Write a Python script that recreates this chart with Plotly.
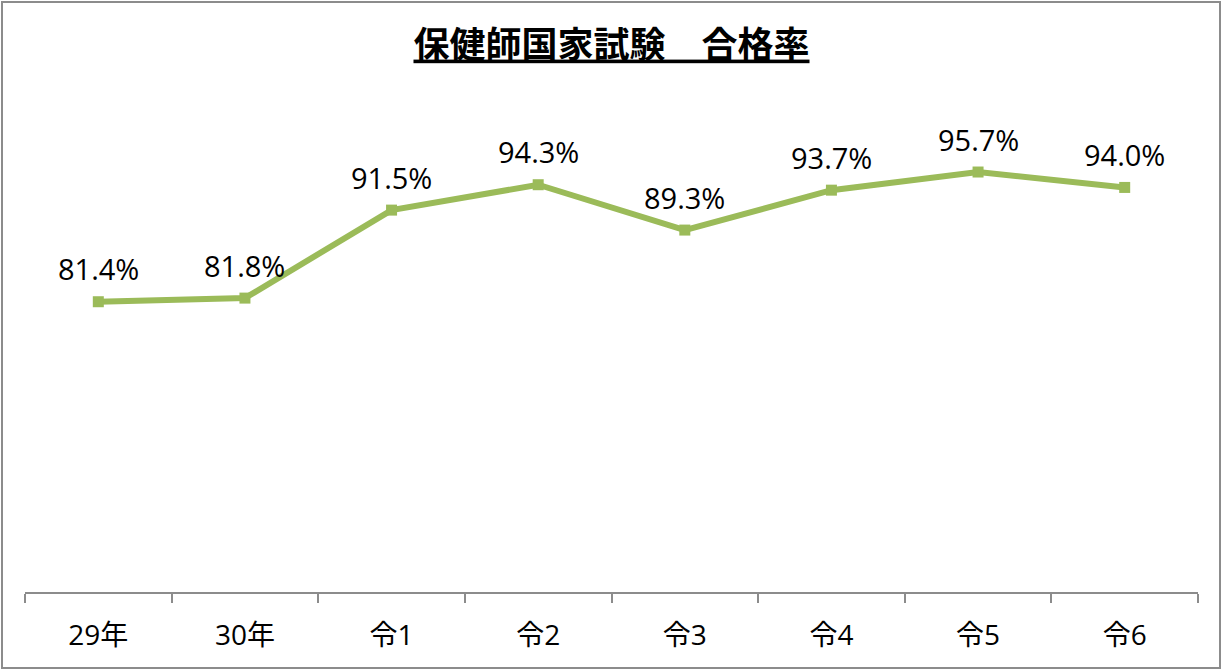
import plotly.graph_objects as go

# 保健師国家試験 合格率
years = ["29年", "30年", "令1", "令2", "令3", "令4", "令5", "令6"]
pass_rate = [81.4, 81.8, 91.5, 94.3, 89.3, 93.7, 95.7, 94.0]
labels = [f"{v:.1f}%" for v in pass_rate]

W, H = 1222, 670
ml, mr, mt, mb = 25, 24, 138, 78
pw, ph = W - ml - mr, H - mt - mb

fig = go.Figure()
fig.add_trace(go.Scatter(
    x=years, y=pass_rate, mode="lines+markers",
    line=dict(color="#9BBB59", width=6),
    marker=dict(symbol="square", size=11, color="#9BBB59"),
    cliponaxis=False, hoverinfo="skip",
))

# data labels above each point
for yr, v, lab in zip(years, pass_rate, labels):
    fig.add_annotation(x=yr, y=v, text=lab, showarrow=False,
                       yanchor="middle", yshift=33,
                       font=dict(size=29, color="black", family="Open Sans, Noto Sans CJK JP"))

# chart border
fig.add_shape(type="rect", xref="paper", yref="paper",
              x0=(2 - ml) / pw, x1=(W - 2 - ml) / pw,
              y0=(H - mb - (H - 2)) / ph, y1=(H - mb - 2) / ph,
              line=dict(color="#8c8c8c", width=2), layer="below")

fig.update_layout(
    width=W, height=H,
    margin=dict(l=ml, r=mr, t=mt, b=mb),
    paper_bgcolor="white", plot_bgcolor="white",
    showlegend=False,
    title=dict(text="<b><u>保健師国家試験　合格率</u></b>", x=0.5, xref="paper",
               y=1 - 45 / H, yanchor="middle",
               font=dict(size=36, color="black", family="Noto Sans CJK JP")),
    font=dict(family="Open Sans, Noto Sans CJK JP", color="black"),
)
fig.update_xaxes(
    range=[-0.5, len(years) - 0.5],
    showline=True, linecolor="#8c8c8c", linewidth=1.5,
    ticks="outside", tickson="boundaries", ticklen=9, tickcolor="#8c8c8c",
    tickwidth=1.5, showgrid=False, zeroline=False, ticklabelstandoff=18,
    tickfont=dict(size=28, color="black", family="Open Sans, Noto Sans CJK JP"),
)
fig.update_yaxes(range=[49.4, 99.45], visible=False, showgrid=False)

fig.write_html("out.html", config={"displayModeBar": False},
               post_script="document.body.style.margin='0';")
